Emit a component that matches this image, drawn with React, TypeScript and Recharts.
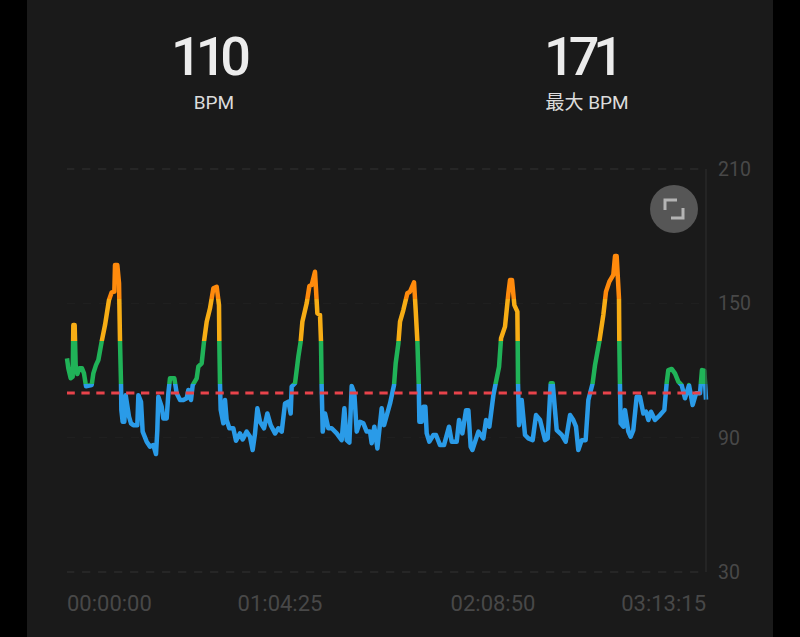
import { LineChart, Line, XAxis, YAxis, CartesianGrid, ReferenceLine } from 'recharts';

const elapsedSec = [
  0, 24, 67, 103, 115, 139, 157, 188, 224, 272, 308, 345, 448, 478, 526, 569, 629, 690, 762, 811, 859, 871, 913, 944,
  962, 980, 986, 1010, 1040, 1065, 1125, 1161, 1204, 1276, 1295, 1343, 1373, 1446, 1506, 1567, 1615, 1639, 1657, 1718,
  1748, 1809, 1839, 1869, 1948, 1990, 2051, 2111, 2172, 2202, 2250, 2281, 2353, 2383, 2444, 2486, 2535, 2595, 2656,
  2716, 2758, 2764, 2776, 2789, 2837, 2867, 2897, 2946,
  3018, 3067, 3139, 3188, 3260, 3321, 3369, 3412, 3454, 3502, 3575, 3635, 3696, 3775, 3835, 3896, 3956, 4017, 4059,
  4077, 4138, 4198, 4240, 4271, 4349, 4398, 4440, 4500, 4543, 4591, 4609, 4621, 4640, 4682, 4742, 4803, 4894, 4984,
  5033, 5075, 5124, 5166, 5214, 5257, 5317, 5378, 5438, 5499, 5529, 5577, 5632, 5710, 5753, 5862, 5934, 5964, 6013,
  6043, 6103, 6176, 6224, 6297, 6327, 6358, 6382, 6394, 6436, 6466, 6503, 6527, 6575, 6648, 6696, 6769, 6841, 6932,
  6981, 7071, 7114, 7174, 7241, 7283, 7325, 7356, 7465, 7555, 7604, 7664, 7737, 7779, 7840, 7876, 7948, 8009, 8039,
  8075, 8118, 8172, 8178, 8184, 8202, 8251, 8311, 8372, 8450, 8511, 8584, 8674, 8723, 8777, 8813, 8886, 8977, 9049,
  9128, 9187, 9236, 9278, 9339, 9411, 9460, 9538, 9581, 9659, 9732, 9780, 9841, 9913, 9944, 9974, 10016, 10022, 10034,
  10046, 10095, 10125, 10186, 10228, 10276, 10337, 10397, 10458, 10506, 10549, 10597, 10670, 10760, 10839, 10881, 10911,
  10972, 11032, 11093, 11153, 11214, 11287, 11353, 11414, 11486, 11522, 11565, 11595,
];

const bpm = [
  125.4, 121, 116.5, 117.2, 140.3, 140.3, 122.4, 118.4, 121, 121, 118.7, 113, 113.5, 118.7, 122.4, 124.7, 132.9, 140.3,
  151.5, 154.9, 155.2, 167.1, 167.1, 159,
  132.9, 114.3, 102.4, 97.1, 97.1, 109, 99.4, 96.4, 95.6, 95.6, 109, 106, 92.7, 88.2, 86, 86.7, 82.7, 93.4, 108.3, 103.8,
  98.6, 98.6, 109.8, 116.5, 116.5, 109.8, 106.8, 106.8, 107.6, 111.3, 106.8, 113.5, 116.5, 121.7, 123.2, 132.9, 141.8,
  147.8, 156.7, 157.4, 149.2, 132.9, 114.3, 102.4, 96.4, 106.8, 97.9, 94.2,
  94.2, 88.6, 91.9, 89.2, 92.7, 90.4, 84.5, 91.9, 103.1, 97.1, 94.2, 100.8, 95.6, 91.9, 94.2, 92.7, 105.3, 106.1, 100.8,
  112.8, 114.3, 126.2, 132.9, 141.8, 150, 157.7, 158.2, 164.1, 145.5, 144.8, 132.9, 112.8, 92.7, 100.8, 94.2, 94.2, 91.9,
  88.9, 103.1, 88.9, 87.8, 113.1, 109.8, 92.7, 97.1, 96.4, 92.7, 92.7, 87.5, 94.9, 85.2, 103.1, 95.6, 105.3, 113.5, 123.2,
  132.1,
  141.8, 147, 154.5, 155.2, 159.4, 147, 132.9, 114.3, 97.1, 97.1, 103.8, 103.8, 91.9, 88.2, 91.2, 91.2, 86.7, 86.7, 94.9,
  88.2, 88.2, 97.9, 91.9, 102.3, 102.3, 86, 84.5, 92.7, 89.7, 97.9, 94.9, 109, 114.3, 121.7, 134.4, 139.6, 154.5, 160.4,
  160.4, 149.2, 146.3, 132.9, 114.3, 95.6, 106.8, 91.2, 89.7, 88.9, 100.1, 97.9, 88.9, 89.7, 114.3, 114.3, 93.4, 91.2,
  88.2,
  100.1, 97.9, 94.9, 84.5, 88.9, 88.9, 106.8, 114.3, 122.4, 132.9, 144.8, 155.2, 159.7, 162.7, 171.1, 171.1, 152.2, 132.9,
  113.5,
  96.4, 94.9, 102.3, 92.7, 90.4, 93.4, 108.3, 108.3, 100.8, 101.6, 97.9, 101.6, 97.9, 100.1, 102.3, 114.3, 120.2,
  120.7, 118.7, 115, 113.5, 107.6, 113.5, 104.6, 109.8, 109.8, 120.2, 119.9, 107,
];

const yTicks = [30, 90, 150, 210];
const xTicks = [0, 3865, 7730, 11595];
const xLabels = ['00:00:00', '01:04:25', '02:08:50', '03:13:15'];
const xAnchors = ['start', 'middle', 'middle', 'end'];

// heart rate zones, top to bottom
const zoneLimits = [152, 133, 114];
const zoneColors = ['#ff8a0c', '#f7ad15', '#20b358', '#2a9be8'];

const chartData = elapsedSec.map((t, i) => ({ t, bpm: bpm[i] }));

const maxBpm = Math.max(...bpm);
const minBpm = Math.min(...bpm);
const zoneOffset = (v: number) => (maxBpm - v) / (maxBpm - minBpm);

const font = 'Roboto, "Noto Sans CJK SC", sans-serif';

function TimeTick({ x, y, index }: any) {
  return (
    <text x={x} y={y} dy={31} textAnchor={xAnchors[index]} fill="#484848" fontSize={22} fontFamily={font}>
      {xLabels[index]}
    </text>
  );
}

function Stat({ numberLeft, labelLeft, value, label }: { numberLeft: number; labelLeft: number; value: string; label: string }) {
  return (
    <div style={{ fontFamily: font }}>
      <div
        style={{
          position: 'absolute',
          left: numberLeft - 100,
          top: 26,
          width: 200,
          textAlign: 'center',
          fontSize: 54,
          fontWeight: 500,
          lineHeight: '62px',
          color: '#ececec',
          letterSpacing: -6,
        }}
      >
        {value}
      </div>
      <div
        style={{
          position: 'absolute',
          left: labelLeft - 100,
          top: 91,
          width: 200,
          textAlign: 'center',
          fontSize: 19,
          lineHeight: '24px',
          color: '#dcdcdc',
        }}
      >
        {label}
      </div>
    </div>
  );
}

export default function App() {
  return (
    <div style={{ position: 'absolute', left: 0, top: 0, width: 800, height: 637, background: '#000', overflow: 'hidden' }}>
      <div style={{ position: 'absolute', left: 27, top: 0, width: 746, height: 637, background: '#1a1a1a' }} />
      <Stat numberLeft={208} labelLeft={214} value="110" label="BPM" />
      <Stat numberLeft={581} labelLeft={587} value="171" label="最大 BPM" />
      <div style={{ position: 'absolute', left: 0, top: 0 }}>
        <LineChart width={800} height={637} data={chartData} margin={{ top: 169, right: 0, bottom: 0, left: 67 }}>
          <defs>
            <linearGradient id="zoneStroke" x1="0" y1="0" x2="0" y2="1">
              {zoneLimits.map((limit, i) => [
                <stop key={`a${i}`} offset={zoneOffset(limit)} stopColor={zoneColors[i]} />,
                <stop key={`b${i}`} offset={zoneOffset(limit)} stopColor={zoneColors[i + 1]} />,
              ])}
            </linearGradient>
          </defs>
          <CartesianGrid vertical={false} stroke="#212121" strokeWidth={1} strokeDasharray="8 8" />
          <XAxis
            dataKey="t"
            type="number"
            domain={[0, 11595]}
            ticks={xTicks}
            height={65}
            axisLine={false}
            tickLine={false}
            interval={0}
            tick={<TimeTick />}
          />
          <YAxis
            orientation="right"
            domain={[30, 210]}
            ticks={yTicks}
            width={94}
            axisLine={{ stroke: '#2f2f2f', strokeWidth: 1 }}
            tickLine={false}
            tickMargin={6}
            tick={{ fill: '#484848', fontSize: 19.5, fontFamily: font, textAnchor: 'start' }}
          />
          <ReferenceLine y={210} stroke="#303030" strokeDasharray="8 8" strokeDashoffset={8} />
          <ReferenceLine y={30} stroke="#303030" strokeDasharray="8 8" strokeDashoffset={8} />
          <Line
            dataKey="bpm"
            type="linear"
            stroke="url(#zoneStroke)"
            strokeWidth={4.5}
            strokeLinejoin="round"
            dot={false}
            activeDot={false}
            isAnimationActive={false}
          />
          <ReferenceLine y={110} stroke="#e8434b" strokeWidth={3} strokeDasharray="8.3 6.6" strokeDashoffset={9.5} />
        </LineChart>
      </div>
      <svg width={60} height={60} style={{ position: 'absolute', left: 644, top: 179 }}>
        <circle cx={30} cy={30} r={24} fill="#565656" />
        <path d="M21 31 V21 H33 M39 29 V39 H27" fill="none" stroke="#b4b4b4" strokeWidth={3} />
      </svg>
    </div>
  );
}
